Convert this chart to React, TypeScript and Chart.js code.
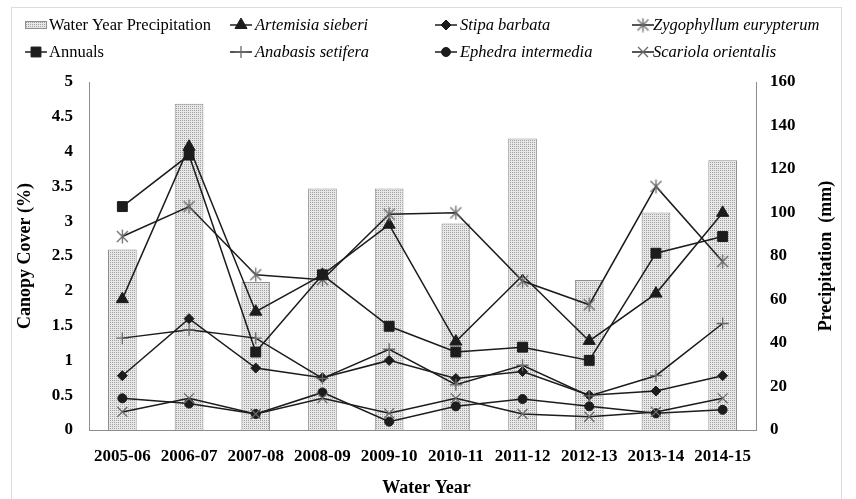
import React, { useEffect, useRef } from 'react';
import { Chart, registerables } from 'chart.js';

Chart.register(...registerables);

const categories = ['2005-06', '2006-07', '2007-08', '2008-09', '2009-10', '2010-11', '2011-12', '2012-13', '2013-14', '2014-15'];
const precipitation = [83, 150, 68, 111, 111, 95, 134, 69, 100, 124];
const artemisia = [1.88, 4.07, 1.70, 2.23, 2.95, 1.27, 2.22, 1.28, 1.96, 3.12];
const stipa = [0.78, 1.60, 0.89, 0.75, 1.00, 0.74, 0.84, 0.50, 0.56, 0.78];
const zygophyllum = [2.78, 3.21, 2.23, 2.16, 3.10, 3.12, 2.14, 1.80, 3.50, 2.42];
const annuals = [3.21, 3.95, 1.12, 2.23, 1.49, 1.12, 1.19, 1.00, 2.54, 2.78];
const anabasis = [1.32, 1.44, 1.32, 0.74, 1.16, 0.65, 0.93, 0.49, 0.78, 1.53];
const ephedra = [0.455, 0.38, 0.23, 0.54, 0.12, 0.34, 0.445, 0.34, 0.24, 0.29];
const scariola = [0.26, 0.455, 0.23, 0.455, 0.24, 0.455, 0.23, 0.19, 0.26, 0.455];

const leftTicksMax = 5;
const rightTicksMax = 160;

const SERIF = "'Liberation Serif', 'Times New Roman', serif";
const LINE = '#1c1c1c';
const GRAYMARK = '#6a6a6a';

function makeAsterisk(): HTMLCanvasElement {
  const c = document.createElement('canvas');
  c.width = 15;
  c.height = 15;
  const g = c.getContext('2d')!;
  g.strokeStyle = GRAYMARK;
  g.lineWidth = 1.3;
  g.beginPath();
  g.moveTo(2, 2); g.lineTo(13, 13);
  g.moveTo(13, 2); g.lineTo(2, 13);
  g.moveTo(7.5, 0.5); g.lineTo(7.5, 14.5);
  g.stroke();
  return c;
}

function makePattern(ctx: CanvasRenderingContext2D): CanvasPattern | string {
  const c = document.createElement('canvas');
  c.width = 2;
  c.height = 2;
  const g = c.getContext('2d')!;
  g.fillStyle = '#e8e8e8';
  g.fillRect(0, 0, 2, 2);
  g.fillStyle = '#a0a0a0';
  g.fillRect(0, 0, 1, 1);
  return ctx.createPattern(c, 'repeat') || '#d6d6d6';
}

function drawMarker(ctx: CanvasRenderingContext2D, style: any, x: number, y: number, r: number, fill: any, stroke: any, lw: number) {
  ctx.save();
  if (typeof style !== 'string') {
    ctx.drawImage(style, x - style.width / 2, y - style.height / 2);
    ctx.restore();
    return;
  }
  ctx.fillStyle = fill;
  ctx.strokeStyle = stroke;
  ctx.lineWidth = lw;
  ctx.beginPath();
  if (style === 'triangle') {
    for (let i = 0; i < 3; i++) {
      const a = (i * 2 * Math.PI) / 3;
      const px = x + Math.sin(a) * r;
      const py = y - Math.cos(a) * r;
      if (i === 0) ctx.moveTo(px, py); else ctx.lineTo(px, py);
    }
    ctx.closePath();
    ctx.fill(); ctx.stroke();
  } else if (style === 'rect') {
    const s = r * Math.SQRT1_2;
    ctx.rect(x - s, y - s, 2 * s, 2 * s);
    ctx.fill(); ctx.stroke();
  } else if (style === 'rectRot') {
    ctx.moveTo(x, y - r); ctx.lineTo(x + r, y); ctx.lineTo(x, y + r); ctx.lineTo(x - r, y); ctx.closePath();
    ctx.fill(); ctx.stroke();
  } else if (style === 'circle') {
    ctx.arc(x, y, r, 0, Math.PI * 2);
    ctx.fill(); ctx.stroke();
  } else if (style === 'cross') {
    ctx.moveTo(x, y - r); ctx.lineTo(x, y + r); ctx.moveTo(x - r, y); ctx.lineTo(x + r, y);
    ctx.stroke();
  } else if (style === 'crossRot') {
    const d = r * Math.SQRT1_2;
    ctx.moveTo(x - d, y - d); ctx.lineTo(x + d, y + d); ctx.moveTo(x + d, y - d); ctx.lineTo(x - d, y + d);
    ctx.stroke();
  }
  ctx.restore();
}

const decorPlugin = {
  id: 'decor',
  afterDraw(chart: any) {
    const ctx: CanvasRenderingContext2D = chart.ctx;
    const area = chart.chartArea;
    ctx.save();
    // outer frame
    ctx.strokeStyle = '#dcdcdc';
    ctx.lineWidth = 1;
    ctx.strokeRect(11.5, 7.5, 830, 500);

    // legend
    ctx.save();
    ctx.beginPath();
    ctx.rect(0, 0, 841, 80);
    ctx.clip();
    const colIcon = [25, 230, 435, 632];
    const colText = [49, 255, 460, 653];
    const rowY = [25, 52];
    chart.data.datasets.forEach((ds: any, i: number) => {
      const col = i % 4;
      const row = Math.floor(i / 4);
      const y = rowY[row];
      const x0 = colIcon[col];
      if (ds.type === 'bar') {
        ctx.fillStyle = ds.backgroundColor;
        ctx.fillRect(x0, y - 3.5, 22, 7);
        ctx.strokeStyle = ds.borderColor;
        ctx.lineWidth = 1;
        ctx.strokeRect(x0 + 0.5, y - 3.5, 21, 7);
      } else {
        ctx.strokeStyle = ds.borderColor;
        ctx.lineWidth = 1.5;
        ctx.beginPath();
        ctx.moveTo(x0, y);
        ctx.lineTo(x0 + 22, y);
        ctx.stroke();
        const r = Array.isArray(ds.pointRadius) ? ds.pointRadius[0] : ds.pointRadius;
        drawMarker(ctx, ds.pointStyle, x0 + 11, y, r, ds.pointBackgroundColor, ds.pointBorderColor, ds.pointBorderWidth);
      }
      ctx.fillStyle = '#000';
      ctx.font = `${ds.italicLabel ? 'italic ' : ''}16.5px ${SERIF}`;
      ctx.textBaseline = 'middle';
      ctx.textAlign = 'left';
      ctx.fillText(ds.label, colText[col], y + 1);
    });
    ctx.restore();

    // axis titles
    ctx.fillStyle = '#000';
    ctx.font = `bold 18px ${SERIF}`;
    ctx.textAlign = 'center';
    ctx.textBaseline = 'middle';
    const midY = (area.top + area.bottom) / 2;
    ctx.save();
    ctx.translate(25, midY);
    ctx.rotate(-Math.PI / 2);
    ctx.fillText('Canopy Cover (%)', 0, 0);
    ctx.restore();
    ctx.save();
    ctx.translate(826, midY);
    ctx.rotate(-Math.PI / 2);
    ctx.fillText('Precipitation  (mm)', 0, 0);
    ctx.restore();
    ctx.fillText('Water Year', (area.left + area.right) / 2 + 4, 488);
    ctx.restore();
  },
};

export default function App() {
  const ref = useRef<HTMLCanvasElement>(null);
  useEffect(() => {
    const canvas = ref.current!;
    const ctx = canvas.getContext('2d')!;
    const pattern = makePattern(ctx);
    const asterisk = makeAsterisk();
    Chart.defaults.font.family = SERIF;
    Chart.defaults.color = '#000';

    const lineDs = (label: string, data: number[], pointStyle: any, radius: any, filled: boolean, italic: boolean, order: number) => ({
      type: 'line' as const,
      label,
      data,
      yAxisID: 'y',
      order,
      italicLabel: italic,
      borderColor: LINE,
      borderWidth: 1.5,
      backgroundColor: LINE,
      pointStyle,
      pointRadius: radius,
      pointBackgroundColor: filled ? LINE : 'rgba(0,0,0,0)',
      pointBorderColor: filled ? LINE : GRAYMARK,
      pointBorderWidth: filled ? 1 : 1.3,
      fill: false,
      tension: 0,
    });

    const tickFont = { size: 17, weight: 'bold', family: SERIF };

    const chart = new Chart(ctx, {
      type: 'bar',
      data: {
        labels: categories,
        datasets: [
          {
            type: 'bar',
            label: 'Water Year Precipitation',
            data: precipitation,
            yAxisID: 'y1',
            order: 10,
            backgroundColor: pattern as any,
            borderColor: '#8e8e8e',
            borderWidth: 1,
            barPercentage: 0.43,
            categoryPercentage: 1,
          } as any,
          lineDs('Artemisia sieberi', artemisia, 'triangle', [7, 7, 7, 7, 7, 7, 1.5, 7, 7, 7], true, true, 1),
          lineDs('Stipa barbata', stipa, 'rectRot', 5, true, true, 1),
          lineDs('Zygophyllum eurypterum', zygophyllum, asterisk, 6, false, true, 0),
          lineDs('Annuals', annuals, 'rect', 7, true, false, -1),
          lineDs('Anabasis setifera', anabasis, 'cross', 6, false, true, 0),
          lineDs('Ephedra intermedia', ephedra, 'circle', 4.5, true, true, 1),
          lineDs('Scariola orientalis', scariola, 'crossRot', 7, false, true, 0),
        ],
      },
      options: {
        responsive: false,
        animation: false,
        devicePixelRatio: 1,
        layout: { padding: { top: 82, left: 0, right: 0, bottom: 0 } },
        plugins: {
          legend: { display: false },
          tooltip: { enabled: false },
          title: { display: false },
        },
        scales: {
          x: {
            type: 'category',
            offset: true,
            grid: { display: false, drawTicks: false },
            border: { display: true, color: '#8c8c8c', width: 1 },
            ticks: { color: '#000', font: tickFont, padding: 16, maxRotation: 0, autoSkip: false },
            afterFit: (s: any) => { s.height = 69; },
          },
          y: {
            position: 'left',
            min: 0,
            max: leftTicksMax,
            grid: { display: false, drawTicks: false },
            border: { display: true, color: '#8c8c8c', width: 1 },
            ticks: {
              stepSize: 0.5,
              color: '#000',
              font: tickFont,
              padding: 16,
              callback: (v: any) => String(Math.round(Number(v) * 10) / 10),
            },
            afterFit: (s: any) => { s.width = 89; },
          },
          y1: {
            position: 'right',
            min: 0,
            max: rightTicksMax,
            grid: { display: false, drawTicks: false },
            border: { display: true, color: '#8c8c8c', width: 1 },
            ticks: { stepSize: 20, color: '#000', font: tickFont, padding: 14 },
            afterFit: (s: any) => { s.width = 100; },
          },
        },
      } as any,
      plugins: [decorPlugin],
    });
    return () => chart.destroy();
  }, []);
  return (
    <div style={{ position: 'fixed', left: 0, top: 0, width: 856, height: 499, background: '#fff' }}>
      <canvas ref={ref} width={856} height={499} style={{ display: 'block', width: 856, height: 499 }} />
    </div>
  );
}
